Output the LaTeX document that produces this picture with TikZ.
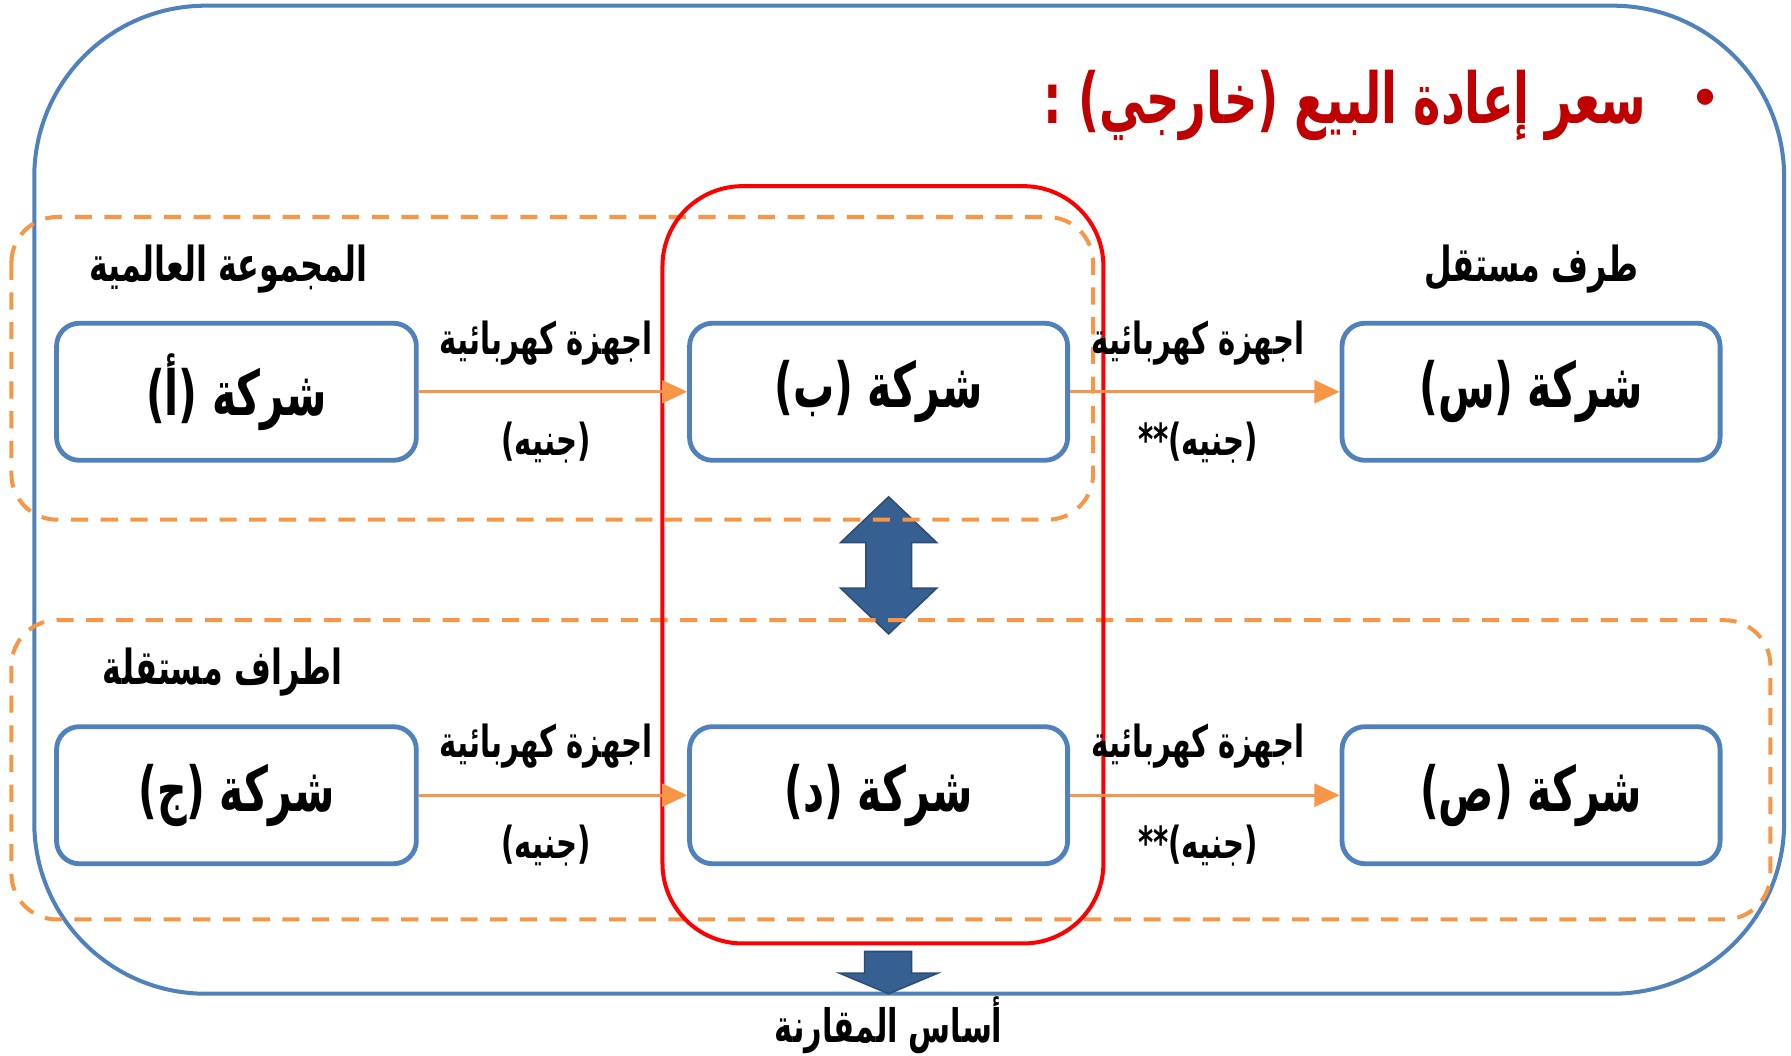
\documentclass[tikz,border=0pt]{standalone}
\usepackage{fontspec}
\usetikzlibrary{positioning,arrows.meta}
\newfontfamily\arabicfont[Script=Arabic, FakeStretch=0.66]{DejaVu Sans}
\TeXXeTstate=1
\definecolor{boxblue}{HTML}{4F81BD}
\definecolor{lineorange}{HTML}{F79646}
\definecolor{titlered}{HTML}{C00000}
\definecolor{arrowblue}{HTML}{376092}
\newcommand{\arb}[1]{\arabicfont\bfseries\beginR #1\endR}

\begin{document}
\begin{tikzpicture}[x=0.1mm, y=-0.1mm,
    company/.style={rectangle, draw=boxblue, line width=1.2pt, rounded corners=2mm, minimum width=33.1mm, minimum height=12mm, font=\fontsize{15.5}{18}\selectfont},
    group/.style={draw=lineorange, line width=1pt, dash pattern=on 1.5mm off 1.1mm, rounded corners=4mm},
    flow/.style={draw=lineorange, line width=0.7pt, -{Triangle[length=2.2mm,width=2mm]}},
    goods/.style={font=\fontsize{11}{13}\selectfont, inner sep=0pt, xshift=-0.6mm},
    heading/.style={font=\fontsize{12}{14}\selectfont},
    bigarrow/.style={fill=arrowblue, draw=arrowblue!80!black, line width=0.4pt}]

    \useasboundingbox (0,0) rectangle (1568,924);

    % Frames
    \draw[boxblue, line width=1pt, rounded corners=15mm] (30,5) rectangle (1562,870);
    \draw[bigarrow] (778,435) -- (820,475) -- (798,475) -- (798,515) -- (820,515) -- (778,555)
        -- (736,515) -- (758,515) -- (758,475) -- (736,475) -- cycle;
    \draw[group] (10,190) rectangle (957,455);
    \draw[group] (10,543) rectangle (1550,805);
    \draw[red, line width=1pt, rounded corners=7mm] (580,163) rectangle (966,826);

    % Title
    \node[text=titlered, font=\fontsize{17.5}{20}\selectfont, anchor=east] (title) at (1454,92) {\arb{سعر إعادة البيع (خارجي) :}};
    \node[text=titlered, font=\fontsize{18}{20}\selectfont] (dot) at (1493,90) {•};

    % Companies
    \node[company, minimum width=31.5mm] (a) at (207,343) {\arb{شركة (أ)}};
    \node[company, right=23.5mm of a] (b) {\arb{شركة (ب)}};
    \node[company, right=23.6mm of b] (s) {\arb{شركة (س)}};
    \node[company, minimum width=31.5mm, below=22.9mm of a] (j) {\arb{شركة (ج)}};
    \node[company, right=23.5mm of j] (d) {\arb{شركة (د)}};
    \node[company, right=23.6mm of d] (sad) {\arb{شركة (ص)}};

    % Groups
    \node[heading, above=1.2mm of a, xshift=-0.7mm] (world) {\arb{المجموعة العالمية}};
    \node[heading, above=1.2mm of s] (indep) {\arb{طرف مستقل}};
    \node[heading, above=1.2mm of j, xshift=-1.2mm] (parties) {\arb{اطراف مستقلة}};

    % Flows
    \draw[flow] (a) -- node[goods, above=2.2mm] {\arb{اجهزة كهربائية}} node[goods, below=2.5mm] {\arb{(جنيه)}} (b);
    \draw[flow] (b) -- node[goods, above=2.2mm] {\arb{اجهزة كهربائية}} node[goods, below=2.5mm] {\arb{(جنيه)**}} (s);
    \draw[flow] (j) -- node[goods, above=2.2mm] {\arb{اجهزة كهربائية}} node[goods, below=2.5mm] {\arb{(جنيه)}} (d);
    \draw[flow] (d) -- node[goods, above=2.2mm] {\arb{اجهزة كهربائية}} node[goods, below=2.5mm] {\arb{(جنيه)**}} (sad);

    % Basis
    \draw[bigarrow] (757,833) -- (798,833) -- (798,852) -- (821,852) -- (778,870) -- (735,852) -- (757,852) -- cycle;
    \node[heading, font=\fontsize{11.5}{13}\selectfont] (basis) at (778,898) {\arb{أساس المقارنة}};

\end{tikzpicture}
\end{document}
